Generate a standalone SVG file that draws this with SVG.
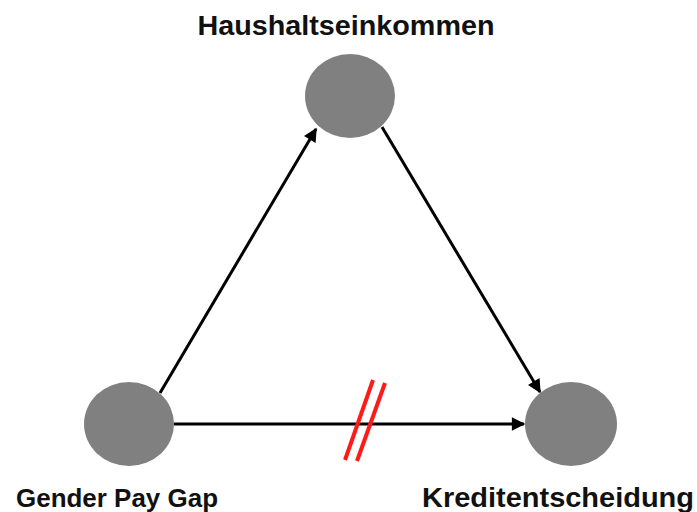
<svg xmlns="http://www.w3.org/2000/svg" width="697" height="512" viewBox="0 0 697 512">
<defs>
<style>
.node{fill:#808080}
.lbl{font-family:"Liberation Sans",Arial,sans-serif;font-weight:bold;fill:#111}
.edge{stroke:#000;stroke-width:3;fill:none;marker-end:url(#arr)}
.cut{stroke:#ff1a1a;stroke-width:4;fill:none}
</style>
<marker id="arr" viewBox="0 0 10 10" refX="9" refY="5" markerWidth="5" markerHeight="4.5" orient="auto" markerUnits="strokeWidth">
<path d="M0,0 L10,5 L0,10 z" fill="#000"/>
</marker>
</defs>
<rect width="697" height="512" fill="#fff"/>
<g id="connectors">
<line class="edge" x1="160" y1="393" x2="316" y2="129"/>
<line class="edge" x1="382" y1="127" x2="540" y2="392"/>
<line class="edge" x1="174" y1="424" x2="524" y2="424"/>
<line class="cut" x1="373" y1="380" x2="345" y2="460"/>
<line class="cut" x1="385" y1="383" x2="357" y2="461"/>
</g>
<g id="haushaltseinkommen">
<ellipse class="node" cx="350" cy="96" rx="45" ry="42"/>
<text class="lbl" x="346" y="35" font-size="28" text-anchor="middle" textLength="297" lengthAdjust="spacingAndGlyphs">Haushaltseinkommen</text>
</g>
<g id="gender-pay-gap">
<ellipse class="node" cx="129" cy="424" rx="45" ry="42"/>
<text class="lbl" x="16" y="507" font-size="26" textLength="202" lengthAdjust="spacingAndGlyphs">Gender Pay Gap</text>
</g>
<g id="kreditentscheidung">
<ellipse class="node" cx="571" cy="424" rx="46" ry="42"/>
<text class="lbl" x="422" y="507" font-size="27" textLength="272" lengthAdjust="spacingAndGlyphs">Kreditentscheidung</text>
</g>
</svg>
